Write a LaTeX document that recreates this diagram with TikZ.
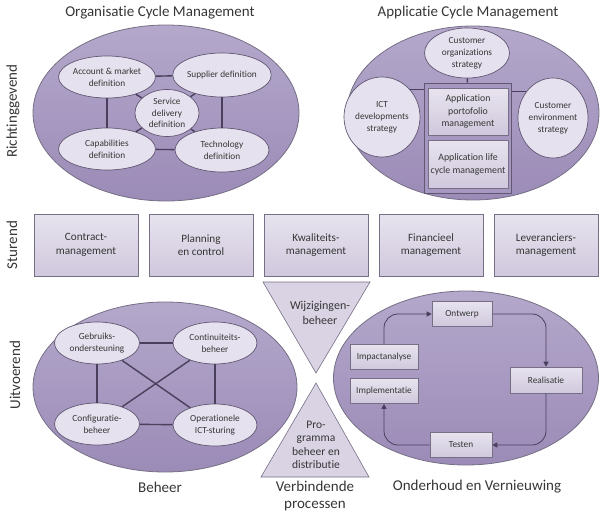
\documentclass[tikz,border=0pt]{standalone}
\usepackage{fontspec}
\setmainfont{Carlito}[Ligatures={NoCommon}]
\usepackage[]{xcolor}
\usetikzlibrary{positioning}
\usetikzlibrary{arrows.meta}
\usetikzlibrary{shapes.geometric}

\definecolor{paarsL}{HTML}{B4A8CB}
\definecolor{paarsD}{HTML}{9B8BB7}
\definecolor{licht}{HTML}{E6E1EE}
\definecolor{blokL}{HTML}{E7E3EE}
\definecolor{blokD}{HTML}{D0C8DD}
\definecolor{rand}{HTML}{625873}
\definecolor{grijs}{HTML}{766F85}
\definecolor{lijn}{HTML}{4A3F5C}
\definecolor{tekst}{HTML}{363636}

\tikzset{
  groot/.style={ellipse, draw=grijs, line width=0.8pt, top color=paarsL, bottom color=paarsD, inner sep=0pt},
  klein/.style={ellipse, draw=rand, line width=0.7pt, fill=licht, inner sep=0pt, align=center,
    text=tekst, font=\fontsize{9.3}{11.8}\selectfont},
  blok/.style={rectangle, draw=grijs, line width=0.6pt, top color=blokL, bottom color=blokD,
    inner sep=0pt, align=center, text=tekst, font=\fontsize{9.3}{12.5}\selectfont},
  kop/.style={font=\fontsize{15}{17}\selectfont, text=tekst, align=center},
  verbind/.style={draw=lijn, line width=1.4pt},
  pijl/.style={draw=lijn, line width=0.8pt, rounded corners=14pt, -{Triangle[width=5pt,length=5pt]}},
  driehoek/.style={draw=grijs, line width=0.6pt, fill=blokD!80!white},
}

\begin{document}
\begin{tikzpicture}[x=1pt,y=-1pt]
\useasboundingbox (0,0) rectangle (600,514);
% 标题
\node[kop] (t1) at (160,13) {Organisatie Cycle Management};
\node[kop] (t2) at (468,13) {Applicatie Cycle Management};
\node[kop, rotate=90] (r1) at (13,111) {Richtinggevend};
\node[kop, rotate=90] (r2) at (12,245) {Sturend};
\node[kop, rotate=90] (r3) at (15,375) {Uitvoerend};
\node[kop] (b1) at (160,487) {Beheer};
\node[kop] (b2) at (315,496) {Verbindende\\processen};
\node[kop] (b3) at (477,487) {Onderhoud en Vernieuwing};
% 大椭圆
\node[groot, minimum width=266, minimum height=176] (org) at (166,113) {};
\node[groot, minimum width=252, minimum height=174] (app) at (473,113) {};
\node[groot, minimum width=264, minimum height=170] (beh) at (165,387) {};
\node[groot, minimum width=265, minimum height=174] (ond) at (466,378) {};
% 左上
\node[klein, minimum width=97, minimum height=42] (acct) at (107,77) {Account \& market\\definition};
\node[klein, minimum width=94, minimum height=44] (supp) at (222,75) {Supplier definition};
\node[klein, minimum width=64, minimum height=47] (serv) at (167,113) {Service\\delivery\\definition};
\node[klein, minimum width=97, minimum height=42] (capa) at (107,149) {Capabilities\\definition};
\node[klein, minimum width=94, minimum height=44] (tech) at (222,150) {Technology\\definition};
\draw[verbind] (acct) -- (supp);
\draw[verbind] (capa) -- (tech);
\draw[verbind] (acct) -- (capa);
\draw[verbind] (supp) -- (tech);
\foreach \n in {acct,supp,capa,tech}
    \draw[verbind] (serv) -- (\n);
% 右上
\node[klein, minimum width=85, minimum height=50] (cust) at (467,53) {Customer\\organizations\\strategy};
\node[klein, minimum width=72, minimum height=80] (ict) at (382,117) {ICT\\developments\\strategy};
\node[klein, minimum width=70, minimum height=80] (env) at (553,118) {Customer\\environment\\strategy};
\node[rectangle, draw=rand, line width=1pt, fill=paarsD!60!paarsL, minimum width=87, minimum height=110] (cont) at (468,138) {};
\node[blok, minimum width=80, minimum height=47, font=\fontsize{9.8}{12.5}\selectfont] (apm) at (468,111.5) {Application\\portofolio\\management};
\node[blok, minimum width=80, minimum height=48, font=\fontsize{9.8}{13}\selectfont] (alm) at (468,164) {Application life\\cycle management};
\draw[verbind] (cust) -- (cont);
\draw[verbind] (ict.45) -- (ict.45 -| cont.west);
\draw[verbind] (env.135) -- (env.135 -| cont.east);
% 中间
\foreach \i/\t in {0/{Contract-\\management}, 1/{Planning\\en control}, 2/{Kwaliteits-\\management},
                   3/{Financieel\\management}, 4/{Leveranciers-\\management}}
    \node[blok, minimum width=104, minimum height=62, font=\fontsize{11.2}{13.5}\selectfont] (s\i) at (86+115*\i,245) {\t};
% 三角
\draw[driehoek] (263,282) -- (370,282) -- (316,373) -- cycle;
\draw[driehoek] (316,383) -- (369,477) -- (261,477) -- cycle;
\node[kop, font=\fontsize{12}{14.5}\selectfont] (wijz) at (320,313) {Wijzigingen-\\beheer};
\node[kop, font=\fontsize{11.5}{13.5}\selectfont] (prog) at (316,445) {Pro-\\gramma\\beheer en\\distributie};
% 左下
\node[klein, minimum width=85, minimum height=42] (gebr) at (97,343) {Gebruiks-\\ondersteuning};
\node[klein, minimum width=84, minimum height=42] (cbeh) at (215,343) {Continuiteits-\\beheer};
\node[klein, minimum width=85, minimum height=42] (conf) at (97,424) {Configuratie-\\beheer};
\node[klein, minimum width=84, minimum height=42] (oper) at (215,425) {Operationele\\ICT-sturing};
\draw[verbind] (gebr) -- (cbeh);
\draw[verbind] (conf) -- (oper);
\draw[verbind] (gebr) -- (conf);
\draw[verbind] (cbeh) -- (oper);
\draw[verbind] (gebr) -- (oper);
\draw[verbind] (cbeh) -- (conf);
% 右下
\node[blok, minimum width=60, minimum height=25] (ontw) at (462,314) {Ontwerp};
\node[blok, minimum width=68, minimum height=25] (impa) at (384,357) {Impactanalyse};
\node[blok, minimum width=68, minimum height=25] (impl) at (384,391) {Implementatie};
\node[blok, minimum width=72, minimum height=26] (real) at (546,380) {Realisatie};
\node[blok, minimum width=62, minimum height=25] (test) at (461,445) {Testen};
\draw[pijl] (impa.north) |- (ontw.west);
\draw[pijl] (ontw.east) -| (real.north);
\draw[pijl] (real.south) |- (test.east);
\draw[pijl] (test.west) -| (impl.south);
\end{tikzpicture}
\end{document}
